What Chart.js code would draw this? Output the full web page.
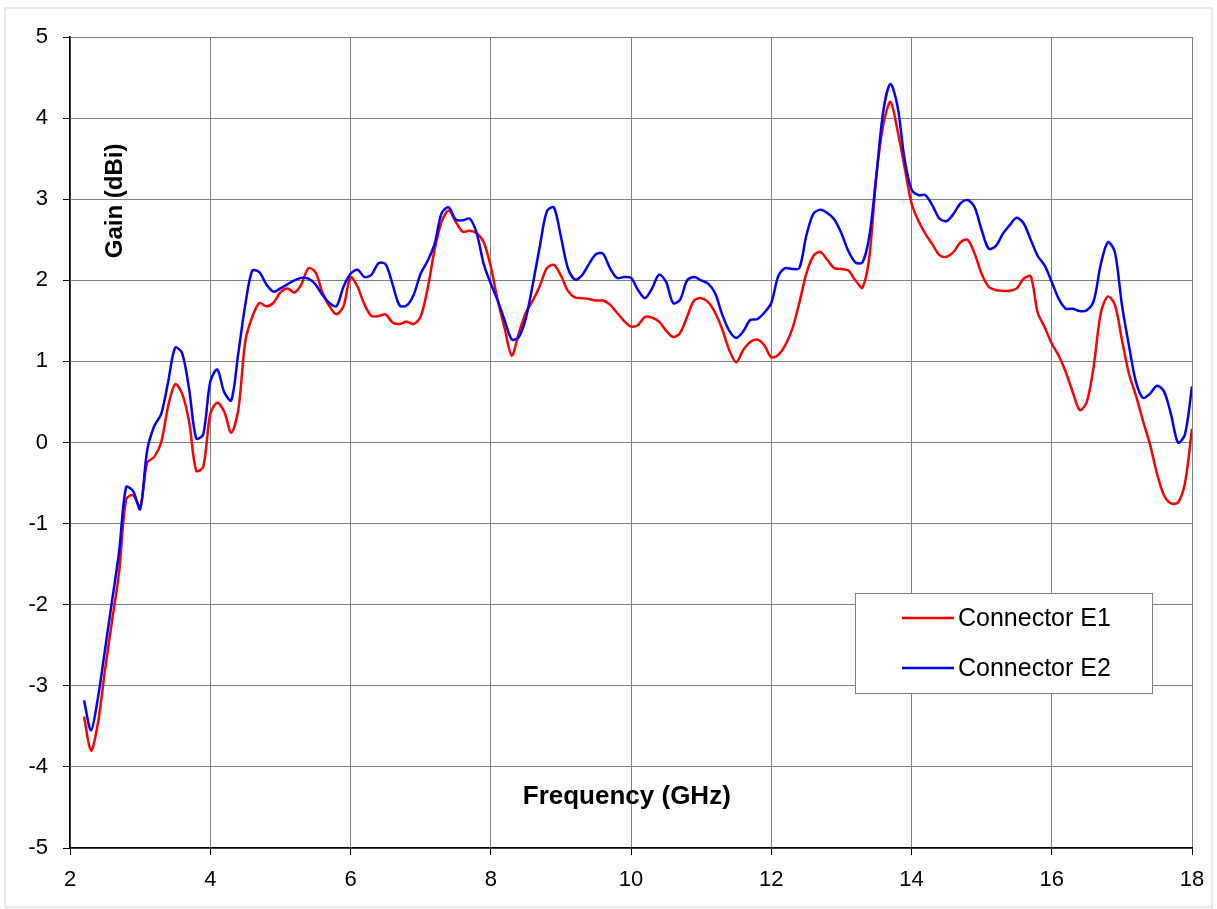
<!DOCTYPE html>
<html>
<head>
<meta charset="utf-8">
<script src="https://cdn.jsdelivr.net/npm/chart.js@4.4.1/dist/chart.umd.min.js"></script>
<style>
  html, body { margin: 0; padding: 0; background: #fff; }
  #wrap { width: 1217px; height: 909px; }
</style>
</head>
<body>
<div id="wrap"><canvas id="myChart" width="1217" height="909"></canvas></div>
<script>
// frequency points (GHz), 0.1 GHz step
const freq = [];
for (let i = 22; i <= 180; i++) freq.push(i / 10);

const gainE1 = [
  -3.38, -3.8, -3.45, -2.8, -2.2, -1.6, -0.7, -0.65, -0.8, -0.25,
  -0.18, 0.0, 0.45, 0.72, 0.6, 0.25, -0.35, -0.3, 0.35, 0.49,
  0.38, 0.12, 0.4, 1.25, 1.55, 1.72, 1.68, 1.72, 1.85, 1.9,
  1.85, 1.95, 2.15, 2.1, 1.85, 1.68, 1.58, 1.68, 2.04, 1.92,
  1.7, 1.56, 1.56, 1.58, 1.48, 1.46, 1.49, 1.46, 1.55, 1.9,
  2.38, 2.72, 2.86, 2.72, 2.6, 2.61, 2.58, 2.47, 2.17, 1.75,
  1.4, 1.07, 1.35, 1.6, 1.75, 1.93, 2.15, 2.19, 2.06, 1.87,
  1.79, 1.78, 1.77, 1.75, 1.75, 1.7, 1.6, 1.5, 1.43, 1.45,
  1.55, 1.54, 1.49, 1.38, 1.3, 1.35, 1.55, 1.75, 1.78, 1.73,
  1.6, 1.4, 1.14, 0.99, 1.14, 1.24, 1.27, 1.2, 1.05, 1.08,
  1.2, 1.4, 1.72, 2.08, 2.3, 2.35, 2.25, 2.15, 2.14, 2.12,
  2.0, 1.91, 2.3, 3.3, 3.93, 4.2, 3.85, 3.4, 2.95, 2.73,
  2.57, 2.44, 2.31, 2.29, 2.35, 2.47, 2.5, 2.33, 2.08, 1.92,
  1.88, 1.87, 1.87, 1.9, 2.02, 2.05, 1.6, 1.42, 1.22, 1.07,
  0.87, 0.62, 0.4, 0.5, 0.95, 1.6, 1.8, 1.7, 1.27, 0.85,
  0.58, 0.27, -0.02, -0.38, -0.65, -0.75, -0.74, -0.5, 0.17
];

const gainE2 = [
  -3.18, -3.55, -3.14, -2.55, -1.95, -1.35, -0.55, -0.6, -0.82, -0.1,
  0.2, 0.35, 0.75, 1.17, 1.1, 0.65, 0.05, 0.1, 0.75, 0.9,
  0.62, 0.52, 1.1, 1.7, 2.12, 2.1, 1.95, 1.86, 1.9, 1.95,
  2.0, 2.03, 2.02, 1.95, 1.82, 1.72, 1.68, 1.92, 2.08, 2.13,
  2.04, 2.07, 2.21, 2.2, 1.95, 1.69, 1.69, 1.82, 2.08, 2.24,
  2.45, 2.83, 2.9, 2.75, 2.74, 2.76, 2.58, 2.2, 1.96, 1.75,
  1.5, 1.27, 1.3, 1.53, 1.95, 2.42, 2.85, 2.9, 2.54, 2.15,
  2.01, 2.06, 2.2, 2.32, 2.33, 2.15, 2.03, 2.04, 2.03, 1.88,
  1.78, 1.9, 2.07, 1.98, 1.72, 1.76, 2.0, 2.04, 2.0, 1.96,
  1.84, 1.58, 1.38, 1.29, 1.37, 1.51, 1.52, 1.6, 1.72, 2.05,
  2.15, 2.14, 2.15, 2.55, 2.82, 2.87, 2.83, 2.75, 2.58, 2.36,
  2.22, 2.22, 2.55, 3.3, 4.1, 4.42, 4.15, 3.5, 3.12, 3.05,
  3.05, 2.92, 2.76, 2.73, 2.82, 2.95, 2.99, 2.9, 2.62, 2.39,
  2.42, 2.57, 2.68, 2.77, 2.7, 2.5, 2.3, 2.18, 1.98, 1.77,
  1.65, 1.65, 1.62, 1.63, 1.75, 2.2, 2.47, 2.35, 1.7, 1.2,
  0.75, 0.55, 0.6, 0.7, 0.63, 0.35, 0.0, 0.1, 0.69
];

const seriesNames = ['Connector E1', 'Connector E2'];
const seriesColors = ['#ff0000', '#0000ff'];
const xTitle = 'Frequency (GHz)';
const yTitle = 'Gain (dBi)';

const FONT = 'Arial, "Liberation Sans", sans-serif';

const frame = {
    id: 'frame',
    beforeDraw(chart) {
        const ctx = chart.ctx;
        ctx.save();
        ctx.fillStyle = '#fff';
        ctx.fillRect(0, 0, chart.width, chart.height);
        ctx.strokeStyle = '#e3ebe3';
        ctx.lineWidth = 2;
        ctx.strokeRect(5, 8, chart.width - 10, chart.height - 10);
        ctx.restore();
    }
};

const insideText = {
    id: 'insideText',
    afterDraw(chart) {
        const ctx = chart.ctx;
        const xs = chart.scales.x, ys = chart.scales.y;
        ctx.save();
        ctx.fillStyle = '#000';
        ctx.font = 'bold 26px ' + FONT;
        ctx.textAlign = 'center';
        ctx.textBaseline = 'middle';
        ctx.fillText(xTitle, xs.getPixelForValue(9.94), ys.getPixelForValue(-4.37));
        ctx.font = 'bold 24px ' + FONT;
        ctx.translate(xs.getPixelForValue(2.64), ys.getPixelForValue(2.98));
        ctx.rotate(-Math.PI / 2);
        ctx.fillText(yTitle, 0, 0);
        ctx.restore();

        // legend box inside the plot
        const bx = 855, by = 593, bw = 297, bh = 100;
        ctx.save();
        ctx.fillStyle = '#fff';
        ctx.fillRect(bx, by, bw, bh);
        ctx.strokeStyle = '#808080';
        ctx.lineWidth = 1;
        ctx.strokeRect(bx + 0.5, by + 0.5, bw, bh);
        ctx.font = '25px ' + FONT;
        ctx.textBaseline = 'middle';
        ctx.textAlign = 'left';
        seriesNames.forEach((name, i) => {
            const yy = by + 25 + i * 50;
            ctx.strokeStyle = seriesColors[i];
            ctx.lineWidth = 2.5;
            ctx.beginPath();
            ctx.moveTo(bx + 47, yy);
            ctx.lineTo(bx + 99, yy);
            ctx.stroke();
            ctx.fillStyle = '#000';
            ctx.fillText(name, bx + 103, yy + 1);
        });
        ctx.restore();
    }
};

// E2 listed first so Chart.js paints it on top, as in the original
const data = {
    datasets: seriesNames.map((name, i) => ({
        label: name,
        data: (i === 0 ? gainE1 : gainE2).map((v, k) => ({ x: freq[k], y: v })),
        borderColor: seriesColors[i],
        backgroundColor: seriesColors[i],
        borderWidth: 2.5,
        pointRadius: 0,
        tension: 0.3,
        fill: false
    })).reverse()
};

const config = {
    type: 'line',
    data: data,
    options: {
        responsive: false,
        animation: false,
        layout: { padding: { left: 0, right: 25, top: 37, bottom: 0 } },
        plugins: {
            legend: { display: false },
            tooltip: { enabled: false }
        },
        scales: {
            x: {
                type: 'linear',
                min: 2, max: 18,
                afterFit: s => { s.height = 61; },
                ticks: { stepSize: 2, color: '#000', padding: 12, font: { size: 22, family: FONT } },
                grid: { color: '#808080', tickColor: '#000', tickLength: 7, lineWidth: 1 },
                border: { color: '#000', width: 1.5 }
            },
            y: {
                min: -5, max: 5,
                afterFit: s => { s.width = 70; },
                ticks: { stepSize: 1, color: '#000', padding: 15, font: { size: 22, family: FONT } },
                grid: { color: '#808080', tickColor: '#000', tickLength: 7, lineWidth: 1 },
                border: { color: '#000', width: 1.5 }
            }
        }
    },
    plugins: [frame, insideText]
};

const myChart = new Chart(document.getElementById('myChart'), config);
</script>
</body>
</html>
